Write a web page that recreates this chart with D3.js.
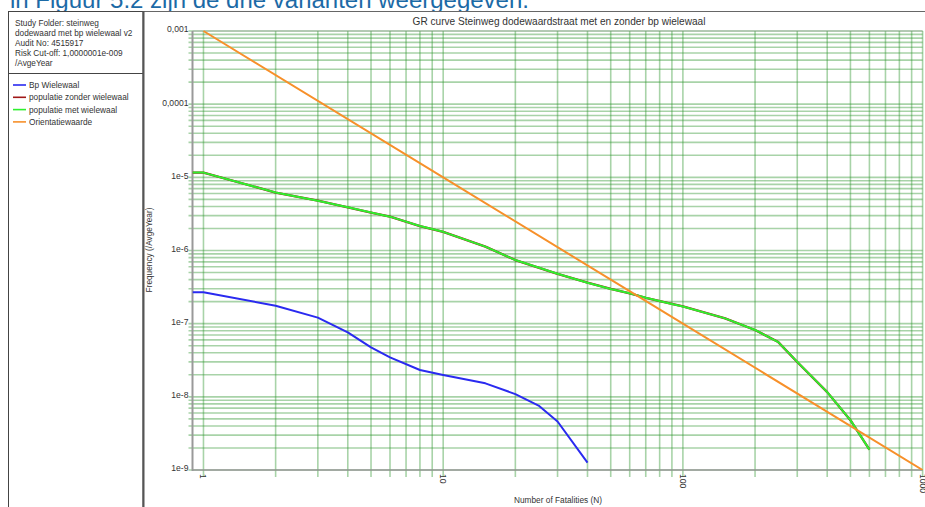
<!DOCTYPE html>
<html>
<head>
<meta charset="utf-8">
<script src="https://cdn.jsdelivr.net/npm/d3@7/dist/d3.min.js"></script>
<style>
  html, body { margin: 0; padding: 0; background: #fff; overflow: hidden; }
  svg { display: block; font-family: "Liberation Sans", Arial, sans-serif; }
</style>
</head>
<body>
<svg id="chart" width="925" height="507"></svg>
<script>
// ---- data ----
const headerText = "in Figuur 5.2 zijn de drie varianten weergegeven.";
const chartTitle = "GR curve Steinweg dodewaardstraat met en zonder bp wielewaal";
const infoLines = ["Study Folder: steinweg", "dodewaard met bp wielewaal v2", "Audit No: 4515917", "Risk Cut-off: 1,0000001e-009", "/AvgeYear"];
const seriesNames = ["Bp Wielewaal", "populatie zonder wielewaal", "populatie met wielewaal", "Orientatiewaarde"];
const seriesColors = ["#2a2af0", "#a01818", "#2ef02e", "#f7902a"];

const bpN = [0.9, 1, 2, 3, 4, 5, 6, 8, 10, 15, 20, 25, 30, 40];
const bpF = [2.69e-7, 2.69e-7, 1.76e-7, 1.21e-7, 7.6e-8, 4.75e-8, 3.47e-8, 2.33e-8, 1.99e-8, 1.53e-8, 1.09e-8, 7.6e-9, 4.6e-9, 1.26e-9];

const zonderN = [0.9, 1, 2, 3, 4, 5, 6, 8, 10, 15, 20, 30, 40, 50, 60, 70, 90, 100, 150, 200, 250, 300, 400, 500, 600];
const zonderF = [1.16e-5, 1.16e-5, 6.2e-6, 4.8e-6, 3.9e-6, 3.3e-6, 2.9e-6, 2.16e-6, 1.8e-6, 1.13e-6, 7.4e-7, 4.8e-7, 3.63e-7, 2.98e-7, 2.6e-7, 2.26e-7, 1.86e-7, 1.72e-7, 1.18e-7, 8.2e-8, 5.6e-8, 3.0e-8, 1.16e-8, 4.8e-9, 1.9e-9];

const metN = [0.9, 1, 2, 3, 4, 5, 6, 8, 10, 15, 20, 30, 40, 50, 60, 70, 90, 100, 150, 200, 250, 300, 400, 500, 600];
const metF = [1.16e-5, 1.16e-5, 6.2e-6, 4.8e-6, 3.9e-6, 3.3e-6, 2.9e-6, 2.16e-6, 1.8e-6, 1.13e-6, 7.4e-7, 4.8e-7, 3.63e-7, 2.98e-7, 2.6e-7, 2.26e-7, 1.86e-7, 1.72e-7, 1.18e-7, 8.2e-8, 5.6e-8, 3.0e-8, 1.16e-8, 4.8e-9, 1.9e-9];

const orientN = [1, 10, 100, 1000];
const orientF = [1e-3, 1e-5, 1e-7, 1e-9];

const yTickValues = [1e-3, 1e-4, 1e-5, 1e-6, 1e-7, 1e-8, 1e-9];
const yTickLabels = ["0,001", "0,0001", "1e-5", "1e-6", "1e-7", "1e-8", "1e-9"];
const xTickValues = [1, 10, 100, 1000];
const xTickLabels = ["1", "10", "100", "1000"];
const xTitle = "Number of Fatalities (N)";
const yTitle = "Frequency (/AvgeYear)";

// ---- layout ----
const svg = d3.select("#chart");
const plot = { left: 192.5, right: 922.6, top: 31, bottom: 470 };

const x = d3.scaleLog().domain([0.9, 1000]).range([plot.left, plot.right]);
const y = d3.scaleLog().domain([1e-9, 1e-3]).range([plot.bottom, plot.top]);

// header text (cropped by the panels below)
svg.append("text").attr("x", 10).attr("y", 8)
  .attr("font-size", 24).attr("fill", "#1c6aa6").text(headerText);

// white panels
svg.append("rect").attr("x", 0).attr("y", 11).attr("width", 925).attr("height", 496).attr("fill", "#fff");

// left panel
svg.append("rect").attr("x", 8.5).attr("y", 11.5).attr("width", 134.5).attr("height", 500)
  .attr("fill", "#fff").attr("stroke", "#444").attr("stroke-width", 1);
svg.append("line").attr("x1", 8.5).attr("x2", 143).attr("y1", 73.5).attr("y2", 73.5)
  .attr("stroke", "#444").attr("stroke-width", 1);
svg.append("g").selectAll("text").data(infoLines).join("text")
  .attr("x", 15).attr("y", (d, i) => 26 + i * 10)
  .attr("font-size", 8.25).attr("fill", "#333").text(d => d);

const legend = svg.append("g");
seriesNames.forEach((name, i) => {
  const ly = 85 + i * 12.3;
  legend.append("line").attr("x1", 13).attr("x2", 26).attr("y1", ly).attr("y2", ly)
    .attr("stroke", seriesColors[i]).attr("stroke-width", 1.6);
  legend.append("text").attr("x", 29).attr("y", ly + 3)
    .attr("font-size", 8.3).attr("fill", "#333").text(name);
});

// chart frame
svg.append("line").attr("x1", 143).attr("x2", 925).attr("y1", 11.5).attr("y2", 11.5)
  .attr("stroke", "#666").attr("stroke-width", 1);
svg.append("line").attr("x1", 143.5).attr("x2", 143.5).attr("y1", 11).attr("y2", 507)
  .attr("stroke", "#555").attr("stroke-width", 2);

svg.append("text").attr("x", 559).attr("y", 25).attr("text-anchor", "middle")
  .attr("font-size", 10.1).attr("fill", "#333").text(chartTitle);

// grid
const grid = svg.append("g").attr("stroke", "#2f962f").attr("stroke-opacity", 0.42).attr("stroke-width", 1.6);
grid.selectAll("line.h").data(y.ticks()).join("line").attr("class", "h")
  .attr("x1", plot.left - 4).attr("x2", plot.right)
  .attr("y1", d => y(d)).attr("y2", d => y(d));
grid.selectAll("line.v").data(x.ticks().filter(d => d >= 1)).join("line").attr("class", "v")
  .attr("y1", plot.top).attr("y2", plot.bottom + 7)
  .attr("x1", d => x(d)).attr("x2", d => x(d));

// axes lines
svg.append("line").attr("x1", plot.left).attr("x2", plot.left).attr("y1", plot.top).attr("y2", plot.bottom + 1)
  .attr("stroke", "#999").attr("stroke-width", 2);
svg.append("line").attr("x1", plot.left).attr("x2", plot.right).attr("y1", plot.bottom).attr("y2", plot.bottom)
  .attr("stroke", "#999").attr("stroke-width", 1.5);
svg.append("line").attr("x1", plot.left).attr("x2", plot.right).attr("y1", plot.top).attr("y2", plot.top)
  .attr("stroke", "#999").attr("stroke-width", 1).attr("stroke-opacity", 0.6);

// y tick labels
const yAxis = d3.axisLeft(y).tickValues(yTickValues)
  .tickFormat((d, i) => yTickLabels[i]).tickSize(0).tickPadding(4);
const gy = svg.append("g").attr("transform", `translate(${plot.left},0)`).call(yAxis);
gy.select(".domain").remove();
gy.selectAll("text").attr("font-size", 8.6).attr("fill", "#333")
  .attr("font-family", "Liberation Sans, Arial, sans-serif").attr("dy", "0.1em");

// x tick labels (rotated)
svg.append("g").selectAll("text").data(xTickValues).join("text")
  .attr("transform", d => `translate(${x(d) - 3},${plot.bottom + 4}) rotate(90)`)
  .attr("font-size", 8.6).attr("fill", "#333").text((d, i) => xTickLabels[i]);

// axis titles
svg.append("text").attr("x", 558).attr("y", 503).attr("text-anchor", "middle")
  .attr("font-size", 8.3).attr("fill", "#333").text(xTitle);
svg.append("text").attr("transform", `translate(152,250) rotate(-90)`).attr("text-anchor", "middle")
  .attr("font-size", 8.3).attr("fill", "#333").text(yTitle);

// series
const line = d3.line().x(d => x(d[0])).y(d => y(d[1]));
svg.append("clipPath").attr("id", "pc").append("rect")
  .attr("x", plot.left).attr("y", plot.top - 2).attr("width", plot.right - plot.left + 2).attr("height", plot.bottom - plot.top + 2);
const series = [
  { n: zonderN, f: zonderF, c: seriesColors[1], w: 2.3 },
  { n: metN, f: metF, c: seriesColors[2], w: 2 },
  { n: orientN, f: orientF, c: seriesColors[3], w: 2 },
  { n: bpN, f: bpF, c: seriesColors[0], w: 2 }
];
const gs = svg.append("g").attr("clip-path", "url(#pc)");
series.forEach(s => {
  gs.append("path").datum(s.n.map((v, i) => [v, s.f[i]]))
    .attr("d", line).attr("fill", "none").attr("stroke", s.c)
    .attr("stroke-width", s.w).attr("stroke-linejoin", "round");
});
</script>
</body>
</html>
